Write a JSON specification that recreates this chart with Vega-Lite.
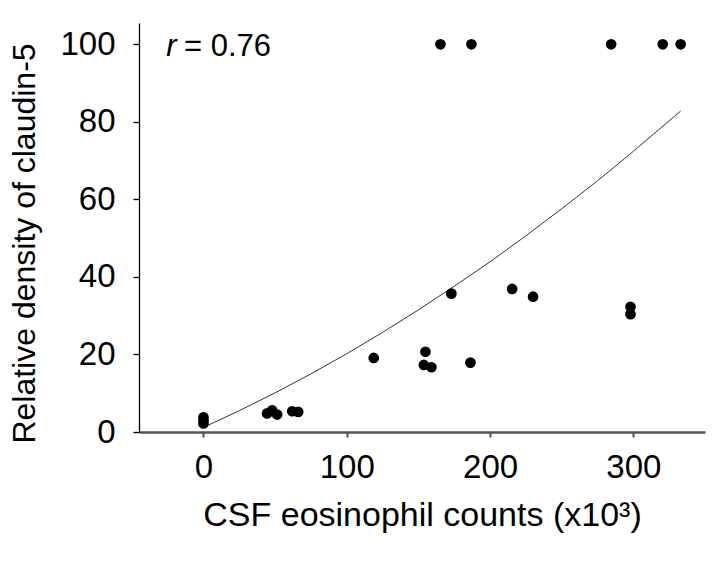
{
  "$schema": "https://vega.github.io/schema/vega-lite/v6.json",
  "width": 566,
  "height": 409,
  "autosize": {"type": "none"},
  "padding": {"left": 139, "top": 23, "right": 9, "bottom": 130},
  "background": "white",
  "config": {
    "view": {"stroke": null},
    "font": "Liberation Sans",
    "axis": {"grid": false, "labelFont": "Liberation Sans", "titleFont": "Liberation Sans", "labelColor": "black", "titleColor": "black", "titleFontWeight": "normal"}
  },
  "datasets": {
    "points": [
      {"count": 165.4, "density": 100},
      {"count": 187, "density": 100},
      {"count": 284.5, "density": 100},
      {"count": 320.5, "density": 100},
      {"count": 333, "density": 100},
      {"count": 0, "density": 3.8},
      {"count": 0, "density": 3.0},
      {"count": 0, "density": 2.2},
      {"count": 44.4, "density": 4.8},
      {"count": 47.9, "density": 5.6},
      {"count": 51.4, "density": 4.5},
      {"count": 61.9, "density": 5.35},
      {"count": 66.1, "density": 5.2},
      {"count": 118.8, "density": 19.1},
      {"count": 154.9, "density": 20.7},
      {"count": 153.8, "density": 17.3},
      {"count": 159.1, "density": 16.7},
      {"count": 173, "density": 35.7},
      {"count": 186.3, "density": 17.9},
      {"count": 215.4, "density": 36.9},
      {"count": 230, "density": 34.9},
      {"count": 298, "density": 32.3},
      {"count": 298, "density": 30.4}
    ],
    "fit": [
      {"count": 0, "density": 1.2},
      {"count": 25, "density": 5.5},
      {"count": 50, "density": 10.1},
      {"count": 75, "density": 15.0},
      {"count": 100, "density": 20.2},
      {"count": 125, "density": 25.7},
      {"count": 150, "density": 31.5},
      {"count": 175, "density": 37.6},
      {"count": 200, "density": 43.9},
      {"count": 225, "density": 50.6},
      {"count": 250, "density": 57.6},
      {"count": 275, "density": 64.8},
      {"count": 300, "density": 72.4},
      {"count": 333, "density": 82.8}
    ]
  },
  "layer": [
    {
      "data": {"name": "fit"},
      "mark": {"type": "line", "color": "#333333", "strokeWidth": 1},
      "encoding": {
        "x": {
          "field": "count", "type": "quantitative",
          "scale": {"domain": [-45, 350], "nice": false, "zero": false},
          "axis": {
            "title": "CSF eosinophil counts (x10³)",
            "values": [0, 100, 200, 300],
            "labelFontSize": 33,
            "titleFontSize": 34,
            "labelPadding": 14,
            "titlePadding": 14,
            "tickSize": 5,
            "tickWidth": 2,
            "tickColor": "#555555",
            "domainColor": "#555555",
            "domainWidth": 2.5
          }
        },
        "y": {
          "field": "density", "type": "quantitative",
          "scale": {"domain": [0, 105.5], "nice": false},
          "axis": {
            "title": "Relative density of claudin-5",
            "values": [0, 20, 40, 60, 80, 100],
            "labelFontSize": 33,
            "titleFontSize": 32,
            "labelPadding": 18,
            "titlePadding": 18,
            "titleY": 220,
            "tickSize": 6,
            "tickWidth": 1.3,
            "tickColor": "black",
            "domainColor": "black",
            "domainWidth": 1.3
          }
        }
      }
    },
    {
      "data": {"name": "points"},
      "mark": {"type": "point", "shape": "circle", "filled": true, "color": "black", "opacity": 1, "size": 115},
      "encoding": {
        "x": {"field": "count", "type": "quantitative"},
        "y": {"field": "density", "type": "quantitative"}
      }
    },
    {
      "data": {"values": [{"label": "r"}]},
      "mark": {"type": "text", "align": "left", "baseline": "alphabetic", "fontSize": 31, "fontStyle": "italic", "font": "Liberation Sans", "color": "black"},
      "encoding": {
        "x": {"datum": -26},
        "y": {"datum": 97},
        "text": {"field": "label"}
      }
    },
    {
      "data": {"values": [{"label": "= 0.76"}]},
      "mark": {"type": "text", "align": "left", "baseline": "alphabetic", "fontSize": 31, "font": "Liberation Sans", "color": "black"},
      "encoding": {
        "x": {"datum": -13.6},
        "y": {"datum": 97},
        "text": {"field": "label"}
      }
    }
  ]
}
